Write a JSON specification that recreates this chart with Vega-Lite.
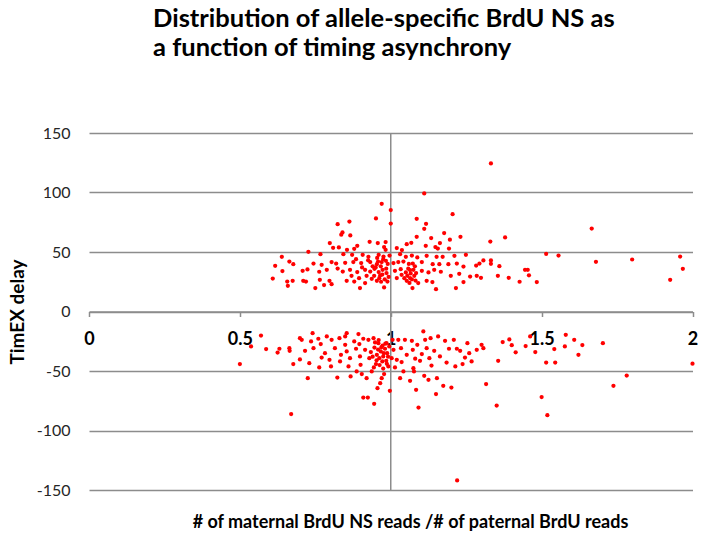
{
  "$schema": "https://vega.github.io/schema/vega-lite/v6.json",
  "width": 603.5,
  "height": 357,
  "autosize": {"type": "none"},
  "padding": {"left": 89, "top": 133, "right": 9.5, "bottom": 53},
  "background": "white",
  "config": {"view": {"stroke": null}, "font": "Lato"},
  "title": {
    "text": ["Distribution of allele-specific BrdU NS as", "a function of timing asynchrony"],
    "anchor": "start",
    "frame": "group",
    "dx": 64,
    "fontSize": 25.5,
    "fontWeight": "bold",
    "color": "#000000",
    "lineHeight": 29,
    "offset": 64,
    "font": "Lato"
  },
  "resolve": {"axis": {"x": "independent"}},
  "data": {
    "values": [
      {"ratio": 0.609, "delay": 27.7}, {"ratio": 0.617, "delay": 38.4}, {"ratio": 0.639, "delay": 46}, {"ratio": 0.641, "delay": 34},
      {"ratio": 0.657, "delay": 25.2}, {"ratio": 0.659, "delay": 21.6}, {"ratio": 0.664, "delay": 42}, {"ratio": 0.675, "delay": 25.8},
      {"ratio": 0.677, "delay": 39.8}, {"ratio": 0.708, "delay": 34.2}, {"ratio": 0.71, "delay": 25.8}, {"ratio": 0.719, "delay": 25.2},
      {"ratio": 0.724, "delay": 35.3}, {"ratio": 0.727, "delay": 50.2}, {"ratio": 0.744, "delay": 40.3}, {"ratio": 0.75, "delay": 19.7},
      {"ratio": 0.763, "delay": 33.4}, {"ratio": 0.765, "delay": 26.6}, {"ratio": 0.767, "delay": 48.2}, {"ratio": 0.771, "delay": 39.2},
      {"ratio": 0.779, "delay": 22.2}, {"ratio": 0.788, "delay": 35}, {"ratio": 0.797, "delay": 25.8}, {"ratio": 0.798, "delay": 57.5},
      {"ratio": 0.804, "delay": 41.5}, {"ratio": 0.804, "delay": 23}, {"ratio": 0.809, "delay": 53.5}, {"ratio": 0.819, "delay": 40.3},
      {"ratio": 0.824, "delay": 73.4}, {"ratio": 0.824, "delay": 36.1}, {"ratio": 0.828, "delay": 53.8}, {"ratio": 0.836, "delay": 64.5},
      {"ratio": 0.84, "delay": 66.4}, {"ratio": 0.841, "delay": 33.6}, {"ratio": 0.843, "delay": 48.2}, {"ratio": 0.849, "delay": 40.9},
      {"ratio": 0.854, "delay": 25.8}, {"ratio": 0.855, "delay": 51.8}, {"ratio": 0.863, "delay": 75.6}, {"ratio": 0.865, "delay": 35},
      {"ratio": 0.866, "delay": 63.9}, {"ratio": 0.872, "delay": 47.6}, {"ratio": 0.876, "delay": 41.5}, {"ratio": 0.879, "delay": 52.7},
      {"ratio": 0.879, "delay": 25.2}, {"ratio": 0.889, "delay": 55.2}, {"ratio": 0.889, "delay": 33.1}, {"ratio": 0.898, "delay": 19.7},
      {"ratio": 0.902, "delay": 40.7}, {"ratio": 0.907, "delay": 47.6}, {"ratio": 0.915, "delay": 35}, {"ratio": 0.915, "delay": 23.9},
      {"ratio": 0.926, "delay": 46}, {"ratio": 0.93, "delay": 58.6}, {"ratio": 0.932, "delay": 41.5}, {"ratio": 0.932, "delay": 33.6},
      {"ratio": 0.937, "delay": 27.5}, {"ratio": 0.946, "delay": 35.9}, {"ratio": 0.951, "delay": 78.2}, {"ratio": 0.954, "delay": 39.8},
      {"ratio": 0.954, "delay": 25.8}, {"ratio": 0.957, "delay": 57.5}, {"ratio": 0.96, "delay": 47.6}, {"ratio": 0.96, "delay": 33.1},
      {"ratio": 0.965, "delay": 30.3}, {"ratio": 0.97, "delay": 90.5}, {"ratio": 0.97, "delay": 41.5}, {"ratio": 0.973, "delay": 35},
      {"ratio": 0.976, "delay": 46.2}, {"ratio": 0.978, "delay": 54.1}, {"ratio": 0.978, "delay": 20.2}, {"ratio": 0.983, "delay": 58.3},
      {"ratio": 0.983, "delay": 51.8}, {"ratio": 0.984, "delay": 42.6}, {"ratio": 0.986, "delay": 32.3}, {"ratio": 0.989, "delay": 25.2},
      {"ratio": 0.996, "delay": 47}, {"ratio": 1.0, "delay": 85.2}, {"ratio": 1.0, "delay": 73.9}, {"ratio": 1.009, "delay": 40.7},
      {"ratio": 1.014, "delay": 34.2}, {"ratio": 1.02, "delay": 53.3}, {"ratio": 1.02, "delay": 28.1}, {"ratio": 1.025, "delay": 41.5},
      {"ratio": 1.031, "delay": 48.2}, {"ratio": 1.033, "delay": 35.6}, {"ratio": 1.036, "delay": 30.8}, {"ratio": 1.037, "delay": 51.6},
      {"ratio": 1.042, "delay": 42}, {"ratio": 1.05, "delay": 46}, {"ratio": 1.05, "delay": 32.8}, {"ratio": 1.053, "delay": 56.6},
      {"ratio": 1.053, "delay": 25.8}, {"ratio": 1.064, "delay": 34.8}, {"ratio": 1.064, "delay": 28.1}, {"ratio": 1.068, "delay": 57.7},
      {"ratio": 1.07, "delay": 47}, {"ratio": 1.072, "delay": 19.7}, {"ratio": 1.073, "delay": 40.3}, {"ratio": 1.084, "delay": 32.3},
      {"ratio": 1.086, "delay": 77.9}, {"ratio": 1.086, "delay": 62.8}, {"ratio": 1.088, "delay": 45.4}, {"ratio": 1.091, "delay": 23.9},
      {"ratio": 1.103, "delay": 41.5}, {"ratio": 1.103, "delay": 34.2}, {"ratio": 1.111, "delay": 99.2}, {"ratio": 1.111, "delay": 69.5},
      {"ratio": 1.116, "delay": 55.2}, {"ratio": 1.117, "delay": 73.7}, {"ratio": 1.119, "delay": 46.8}, {"ratio": 1.119, "delay": 25.8},
      {"ratio": 1.125, "delay": 32.8}, {"ratio": 1.134, "delay": 61.7}, {"ratio": 1.138, "delay": 24.7}, {"ratio": 1.139, "delay": 39.8},
      {"ratio": 1.144, "delay": 35}, {"ratio": 1.148, "delay": 54.1}, {"ratio": 1.15, "delay": 18.8}, {"ratio": 1.152, "delay": 46},
      {"ratio": 1.156, "delay": 52.9}, {"ratio": 1.161, "delay": 39.8}, {"ratio": 1.163, "delay": 57.5}, {"ratio": 1.166, "delay": 33.4},
      {"ratio": 1.172, "delay": 46}, {"ratio": 1.177, "delay": 65.9}, {"ratio": 1.191, "delay": 39.8}, {"ratio": 1.193, "delay": 52.9},
      {"ratio": 1.196, "delay": 60.3}, {"ratio": 1.199, "delay": 30}, {"ratio": 1.205, "delay": 81.8}, {"ratio": 1.211, "delay": 46.8},
      {"ratio": 1.216, "delay": 19.7}, {"ratio": 1.219, "delay": 40.3}, {"ratio": 1.227, "delay": 31.7}, {"ratio": 1.231, "delay": 62.8},
      {"ratio": 1.241, "delay": 37.8}, {"ratio": 1.241, "delay": 24.7}, {"ratio": 1.249, "delay": 47.6}, {"ratio": 1.263, "delay": 29.4},
      {"ratio": 1.283, "delay": 38.6}, {"ratio": 1.285, "delay": 30}, {"ratio": 1.294, "delay": 40.3}, {"ratio": 1.299, "delay": 28.3},
      {"ratio": 1.307, "delay": 42.9}, {"ratio": 1.33, "delay": 58.8}, {"ratio": 1.332, "delay": 42.9}, {"ratio": 1.332, "delay": 40.1},
      {"ratio": 1.332, "delay": 124.4}, {"ratio": 1.355, "delay": 30}, {"ratio": 1.36, "delay": 38.1}, {"ratio": 1.379, "delay": 62.2},
      {"ratio": 1.391, "delay": 28.3}, {"ratio": 1.427, "delay": 25}, {"ratio": 1.445, "delay": 35}, {"ratio": 1.454, "delay": 35},
      {"ratio": 1.458, "delay": 30.4}, {"ratio": 1.484, "delay": 24.7}, {"ratio": 1.515, "delay": 48.5}, {"ratio": 1.556, "delay": 47},
      {"ratio": 1.666, "delay": 69.7}, {"ratio": 1.68, "delay": 41.8}, {"ratio": 1.8, "delay": 43.7}, {"ratio": 1.926, "delay": 26.6},
      {"ratio": 1.959, "delay": 46.2}, {"ratio": 1.968, "delay": 35.9},
      {"ratio": 0.945, "delay": 30}, {"ratio": 0.95, "delay": 37}, {"ratio": 0.958, "delay": 42}, {"ratio": 0.962, "delay": 28},
      {"ratio": 0.967, "delay": 38}, {"ratio": 0.972, "delay": 31}, {"ratio": 0.975, "delay": 44}, {"ratio": 0.98, "delay": 27},
      {"ratio": 0.985, "delay": 36}, {"ratio": 0.99, "delay": 40}, {"ratio": 0.993, "delay": 29}, {"ratio": 0.955, "delay": 45},
      {"ratio": 0.968, "delay": 25}, {"ratio": 0.94, "delay": 38}, {"ratio": 1.055, "delay": 30}, {"ratio": 1.058, "delay": 36},
      {"ratio": 1.062, "delay": 24}, {"ratio": 1.066, "delay": 32}, {"ratio": 1.07, "delay": 27}, {"ratio": 1.075, "delay": 35},
      {"ratio": 1.078, "delay": 30}, {"ratio": 1.082, "delay": 26}, {"ratio": 1.06, "delay": 40}, {"ratio": 1.045, "delay": 28},
      {"ratio": 1.08, "delay": 38}, {"ratio": 0.87, "delay": 30}, {"ratio": 0.885, "delay": 44}, {"ratio": 0.895, "delay": 28},
      {"ratio": 0.905, "delay": 37}, {"ratio": 0.92, "delay": 30}, {"ratio": 0.925, "delay": 43},
      {"ratio": 0.57, "delay": -20.2}, {"ratio": 0.537, "delay": -29.4}, {"ratio": 0.5, "delay": -44.2}, {"ratio": 0.587, "delay": -31.6},
      {"ratio": 0.625, "delay": -34.5}, {"ratio": 0.631, "delay": -31.3}, {"ratio": 0.664, "delay": -30.8}, {"ratio": 0.665, "delay": -33},
      {"ratio": 0.677, "delay": -44.2}, {"ratio": 0.67, "delay": -86.2}, {"ratio": 0.699, "delay": -22.4}, {"ratio": 0.705, "delay": -23.8},
      {"ratio": 0.699, "delay": -40.3}, {"ratio": 0.716, "delay": -33}, {"ratio": 0.725, "delay": -56}, {"ratio": 0.73, "delay": -43.4},
      {"ratio": 0.736, "delay": -25.2}, {"ratio": 0.741, "delay": -18.2}, {"ratio": 0.744, "delay": -30.8}, {"ratio": 0.76, "delay": -22.9},
      {"ratio": 0.763, "delay": -47}, {"ratio": 0.768, "delay": -27.4}, {"ratio": 0.771, "delay": -38.7}, {"ratio": 0.782, "delay": -35},
      {"ratio": 0.788, "delay": -21}, {"ratio": 0.797, "delay": -40.6}, {"ratio": 0.802, "delay": -46.2}, {"ratio": 0.804, "delay": -23.8},
      {"ratio": 0.815, "delay": -30.8}, {"ratio": 0.823, "delay": -55.5}, {"ratio": 0.83, "delay": -22.4}, {"ratio": 0.832, "delay": -42},
      {"ratio": 0.835, "delay": -36.4}, {"ratio": 0.849, "delay": -21}, {"ratio": 0.854, "delay": -18.2}, {"ratio": 0.849, "delay": -28},
      {"ratio": 0.854, "delay": -33.6}, {"ratio": 0.86, "delay": -46.2}, {"ratio": 0.865, "delay": -39.2}, {"ratio": 0.867, "delay": -54.6},
      {"ratio": 0.879, "delay": -25.2}, {"ratio": 0.885, "delay": -31.3}, {"ratio": 0.887, "delay": -50.4}, {"ratio": 0.893, "delay": -19},
      {"ratio": 0.896, "delay": -27.4}, {"ratio": 0.898, "delay": -37.8}, {"ratio": 0.9, "delay": -44.8}, {"ratio": 0.904, "delay": -52.6},
      {"ratio": 0.909, "delay": -72.3}, {"ratio": 0.924, "delay": -72.3}, {"ratio": 0.909, "delay": -22.9}, {"ratio": 0.915, "delay": -32.2},
      {"ratio": 0.92, "delay": -56}, {"ratio": 0.926, "delay": -23.8}, {"ratio": 0.929, "delay": -39.2}, {"ratio": 0.934, "delay": -34.1},
      {"ratio": 0.937, "delay": -50.4}, {"ratio": 0.943, "delay": -22.4}, {"ratio": 0.945, "delay": -77.6}, {"ratio": 0.946, "delay": -30.3},
      {"ratio": 0.951, "delay": -44.2}, {"ratio": 0.954, "delay": -36.4}, {"ratio": 0.956, "delay": -64.4}, {"ratio": 0.959, "delay": -26.6},
      {"ratio": 0.962, "delay": -39.2}, {"ratio": 0.965, "delay": -60.2}, {"ratio": 0.967, "delay": -33.6}, {"ratio": 0.97, "delay": -56},
      {"ratio": 0.973, "delay": -28.6}, {"ratio": 0.975, "delay": -37.8}, {"ratio": 0.978, "delay": -52.6}, {"ratio": 0.981, "delay": -31.3},
      {"ratio": 0.985, "delay": -41.4}, {"ratio": 0.986, "delay": -26.6}, {"ratio": 0.988, "delay": -35}, {"ratio": 0.992, "delay": -46.2},
      {"ratio": 0.995, "delay": -29.4}, {"ratio": 0.997, "delay": -66.6}, {"ratio": 1.003, "delay": -39.2}, {"ratio": 1.006, "delay": -23.8},
      {"ratio": 1.009, "delay": -32.2}, {"ratio": 1.014, "delay": -47}, {"ratio": 1.02, "delay": -40.6}, {"ratio": 1.025, "delay": -23.8},
      {"ratio": 1.031, "delay": -56}, {"ratio": 1.034, "delay": -30.8}, {"ratio": 1.036, "delay": -42.5}, {"ratio": 1.042, "delay": -50.4},
      {"ratio": 1.047, "delay": -23.8}, {"ratio": 1.053, "delay": -36.4}, {"ratio": 1.064, "delay": -58.2}, {"ratio": 1.07, "delay": -24.6},
      {"ratio": 1.073, "delay": -32.2}, {"ratio": 1.075, "delay": -47.6}, {"ratio": 1.077, "delay": -50.4}, {"ratio": 1.081, "delay": -39.7},
      {"ratio": 1.084, "delay": -65.8}, {"ratio": 1.088, "delay": -28}, {"ratio": 1.092, "delay": -80.7}, {"ratio": 1.097, "delay": -41.4},
      {"ratio": 1.103, "delay": -35.8}, {"ratio": 1.108, "delay": -16.8}, {"ratio": 1.111, "delay": -54}, {"ratio": 1.114, "delay": -23.8},
      {"ratio": 1.119, "delay": -30.8}, {"ratio": 1.125, "delay": -57.4}, {"ratio": 1.128, "delay": -39.2}, {"ratio": 1.132, "delay": -22.4},
      {"ratio": 1.135, "delay": -45.4}, {"ratio": 1.144, "delay": -33}, {"ratio": 1.15, "delay": -69.4}, {"ratio": 1.153, "delay": -56},
      {"ratio": 1.157, "delay": -21}, {"ratio": 1.163, "delay": -37.8}, {"ratio": 1.174, "delay": -62.4}, {"ratio": 1.18, "delay": -24.6},
      {"ratio": 1.185, "delay": -42.9}, {"ratio": 1.193, "delay": -31.3}, {"ratio": 1.201, "delay": -63.9}, {"ratio": 1.209, "delay": -23.8},
      {"ratio": 1.214, "delay": -46.2}, {"ratio": 1.219, "delay": -31.3}, {"ratio": 1.23, "delay": -33}, {"ratio": 1.238, "delay": -44.2},
      {"ratio": 1.246, "delay": -38.7}, {"ratio": 1.254, "delay": -26.6}, {"ratio": 1.26, "delay": -35}, {"ratio": 1.268, "delay": -42},
      {"ratio": 1.285, "delay": -32.2}, {"ratio": 1.301, "delay": -28}, {"ratio": 1.307, "delay": -30.8}, {"ratio": 1.316, "delay": -61},
      {"ratio": 1.351, "delay": -79}, {"ratio": 1.356, "delay": -41.4}, {"ratio": 1.371, "delay": -25.7}, {"ratio": 1.393, "delay": -23.5},
      {"ratio": 1.401, "delay": -28.3}, {"ratio": 1.414, "delay": -34.3}, {"ratio": 1.447, "delay": -29}, {"ratio": 1.462, "delay": -21},
      {"ratio": 1.479, "delay": -34.1}, {"ratio": 1.515, "delay": -42.9}, {"ratio": 1.545, "delay": -42.9}, {"ratio": 1.542, "delay": -31.6},
      {"ratio": 1.577, "delay": -29.4}, {"ratio": 1.58, "delay": -19.6}, {"ratio": 1.608, "delay": -23.8}, {"ratio": 1.622, "delay": -36.4},
      {"ratio": 1.635, "delay": -28.2}, {"ratio": 1.703, "delay": -26.6}, {"ratio": 2.0, "delay": -43.9}, {"ratio": 1.782, "delay": -53.8},
      {"ratio": 1.738, "delay": -62.4}, {"ratio": 1.5, "delay": -71.9}, {"ratio": 1.519, "delay": -87.1}, {"ratio": 1.22, "delay": -142},
      {"ratio": 0.94, "delay": -38}, {"ratio": 0.948, "delay": -26}, {"ratio": 0.953, "delay": -41}, {"ratio": 0.958, "delay": -32},
      {"ratio": 0.963, "delay": -45}, {"ratio": 0.969, "delay": -30}, {"ratio": 0.972, "delay": -42}, {"ratio": 0.977, "delay": -35},
      {"ratio": 0.982, "delay": -27}, {"ratio": 0.987, "delay": -44}, {"ratio": 0.991, "delay": -38}, {"ratio": 0.944, "delay": -47},
      {"ratio": 0.96, "delay": -24}, {"ratio": 0.975, "delay": -48}
    ]
  },
  "layer": [
    {
      "data": {"values": [{"ref": 1}]},
      "mark": {"type": "rule", "color": "#8c8c8c", "strokeWidth": 1.5},
      "encoding": {
        "x": {"field": "ref", "type": "quantitative", "scale": {"domain": [0, 2], "nice": false, "zero": false}, "axis": null}
      }
    },
    {
      "mark": {"type": "circle", "color": "#ff0000", "opacity": 1, "size": 18},
      "encoding": {
        "x": {
          "field": "ratio",
          "type": "quantitative",
          "scale": {"domain": [0, 2], "nice": false, "zero": false},
          "axis": {
            "orient": "bottom",
            "offset": -178.5,
            "values": [0, 0.5, 1, 1.5, 2],
            "labelExpr": "'' + datum.value",
            "grid": false,
            "domain": true,
            "domainColor": "#8c8c8c",
            "domainWidth": 1.5,
            "ticks": true,
            "tickColor": "#8c8c8c",
            "tickWidth": 1.5,
            "tickSize": 5,
            "labelFlush": false,
            "labelOverlap": false,
            "labelFont": "Lato",
            "labelFontSize": 18,
            "labelFontWeight": "bold",
            "labelColor": "#000000",
            "labelPadding": 14,
            "title": "# of maternal  BrdU NS reads /# of paternal BrdU reads",
            "titleFont": "Lato",
            "titleFontSize": 18,
            "titleFontWeight": "bold",
            "titleColor": "#000000",
            "titleX": 321,
            "titleY": 211,
            "titleAlign": "center",
            "titleBaseline": "middle"
          }
        },
        "y": {
          "field": "delay",
          "type": "quantitative",
          "scale": {"domain": [-150, 150], "nice": false, "zero": false},
          "axis": {
            "values": [-150, -100, -50, 0, 50, 100, 150],
            "labelExpr": "'' + datum.value",
            "grid": true,
            "gridColor": "#8c8c8c",
            "gridWidth": 1.5,
            "domain": false,
            "ticks": false,
            "labelPadding": 19,
            "labelFont": "Lato",
            "labelFontSize": 16,
            "labelColor": "#262626",
            "title": "TimEX delay",
            "titleFont": "Lato",
            "titleFontSize": 19,
            "titleFontWeight": "bold",
            "titleColor": "#000000",
            "titleAngle": -90,
            "titleX": -72,
            "titleY": 178.5,
            "titleAlign": "center",
            "titleBaseline": "middle"
          }
        }
      }
    }
  ]
}
